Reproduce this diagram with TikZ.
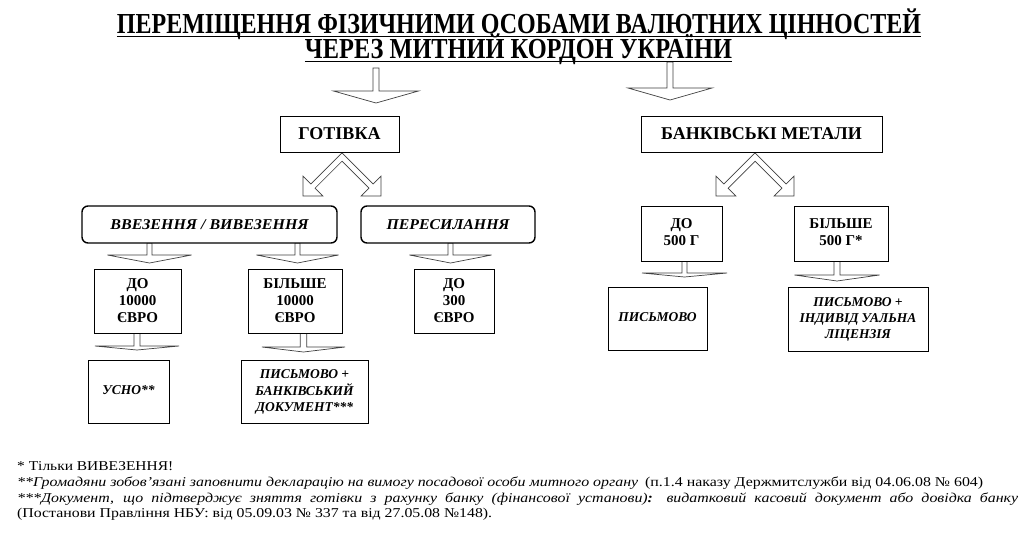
\documentclass[tikz,border=0pt]{standalone}
\usepackage{graphicx}
\usepackage{fontspec}
\setmainfont{Liberation Serif}
\usetikzlibrary{calc}
\pgfdeclarelayer{back}
\pgfdeclarelayer{arr}
\pgfsetlayers{back,arr,main}
\tikzset{
  box/.style={draw=black, line width=1pt, fill=white, inner sep=0pt, outer sep=0pt, align=center},
  rbox/.style={box, rounded corners=6pt, line width=1.4pt},
  blk/.style={draw=black!75, line width=0.7pt, fill=white, line join=miter},
  ul/.style={line width=1.8pt},
  fn/.style={anchor=base west, inner sep=0pt, font=\fontsize{13.5}{16}\selectfont},
  big/.style={font=\fontsize{18}{20}\selectfont\bfseries},
  mid/.style={font=\fontsize{15}{17}\selectfont\bfseries\itshape},
  sm/.style={font=\fontsize{15}{17}\selectfont\bfseries},
  smi/.style={font=\fontsize{13.5}{16}\selectfont\bfseries\itshape},
  ttl/.style={anchor=base, inner sep=0pt, font=\fontsize{29}{29}\selectfont\bfseries},
}
\newcommand\stk[1]{\begin{tabular}{@{}c@{}}#1\end{tabular}}
% block arrow: #1 top centre, #2 depth of head base, #3 depth of tip, #4 half shaft, #5 half head
\newcommand\vblock[5]{\draw[blk] #1 ++(-#4,0) -- ++(0,#2) -- ++(#4-#5,0) -- ++(#5,#3-#2) -- ++(#5,#2-#3) -- ++(#4-#5,0) -- ++(0,-#2) -- cycle;}
% double diagonal arrow around centre #1
\newcommand\chev[1]{\draw[blk] ($#1+(0,-4.24)$) -- ($#1+(-31.22,26.98)$) -- ($#1+(-39,19.2)$) -- ($#1+(-39,39)$) -- ($#1+(-19.2,39)$) -- ($#1+(-26.98,31.22)$) -- ($#1+(0,4.24)$) -- ($#1+(26.98,31.22)$) -- ($#1+(19.2,39)$) -- ($#1+(39,39)$) -- ($#1+(39,19.2)$) -- ($#1+(31.22,26.98)$) -- cycle;}
\begin{document}
\begin{tikzpicture}[x=1pt,y=-1pt]
\begin{pgfonlayer}{back}
\fill[white] (0,0) rectangle (1036,547);
\end{pgfonlayer}
\useasboundingbox (0,0) rectangle (1036,547);

% title
\node[ttl] (t1) at (519,33) {\raisebox{0pt}[\height][0pt]{\resizebox{804pt}{\height}{ПЕРЕМІЩЕННЯ ФІЗИЧНИМИ ОСОБАМИ ВАЛЮТНИХ ЦІННОСТЕЙ}}};
\node[ttl] (t2) at (518.5,58) {\raisebox{0pt}[19pt][\depth]{\resizebox{427pt}{\height}{ЧЕРЕЗ МИТНИЙ КОРДОН УКРАЇНИ}}};
\draw[ul] ($(t1.base west)+(0,3.5)$) -- ($(t1.base east)+(0,3.5)$);
\draw[ul] ($(t2.base west)+(0,3.5)$) -- ($(t2.base east)+(0,3.5)$);

% boxes
\node[box, big, minimum width=119pt, minimum height=36pt] (got) at (339.5,134) {ГОТІВКА};
\node[box, big, minimum width=241pt, minimum height=36pt] (bank) at (761.5,134) {БАНКІВСЬКІ МЕТАЛИ};
\node[rbox, mid, minimum width=255pt, minimum height=37pt] (vv) at (209.5,224.5) {\resizebox{198pt}{\height}{ВВЕЗЕННЯ / ВИВЕЗЕННЯ}};
\node[rbox, mid, minimum width=174pt, minimum height=37pt] (per) at (448,224.5) {\resizebox{123pt}{\height}{ПЕРЕСИЛАННЯ}};
\node[box, sm, minimum width=87pt, minimum height=64pt] (d10) at (137.5,301) {ДО\\10000\\ЄВРО};
\node[box, sm, minimum width=94pt, minimum height=64pt] (b10) at (295,301) {БІЛЬШЕ\\10000\\ЄВРО};
\node[box, sm, minimum width=80pt, minimum height=64pt] (d300) at (454,301) {ДО\\300\\ЄВРО};
\node[box, smi, minimum width=81pt, minimum height=63pt] (usno) at (128.5,391.5) {\raisebox{3pt}{УСНО**}};
\node[box, smi, minimum width=127pt, minimum height=63pt] (pbd) at (304.5,391.5) {\raisebox{2pt}{\stk{ПИСЬМОВО +\\БАНКІВСЬКИЙ\\ДОКУМЕНТ***}}};
\node[box, sm, minimum width=81pt, minimum height=55pt] (d500) at (681.5,233.5) {\raisebox{5.5pt}{\stk{ДО\\500 Г}}};
\node[box, sm, minimum width=94pt, minimum height=55pt] (b500) at (841,233.5) {\raisebox{5.5pt}{\stk{БІЛЬШЕ\\500 Г*}}};
\node[box, smi, minimum width=99pt, minimum height=63pt] (pys) at (657.5,318.5) {\raisebox{2.5pt}{ПИСЬМОВО}};
\node[box, smi, minimum width=140pt, minimum height=64pt] (pil) at (858,319) {\raisebox{3.5pt}{\stk{ПИСЬМОВО +\\ІНДИВІД\kern3pt УАЛЬНА\\ЛІЦЕНЗІЯ}}};

% arrows
\begin{pgfonlayer}{arr}
\vblock{(376,68)}{23}{35}{3}{42.5}
\vblock{(670,62)}{26}{38}{3}{42}
\coordinate (cg) at ($(got.south)+(2.5,5)$);
\coordinate (cb) at ($(bank.south)+(-6.5,5)$);
\chev{(cg)}
\chev{(cb)}
\vblock{(149.5,0 |- vv.south)}{12}{20}{2.5}{42}
\vblock{(297.5,0 |- vv.south)}{12}{20}{2.5}{41}
\vblock{(450.5,0 |- per.south)}{12}{20}{2.5}{41}
\vblock{(137,0 |- d10.south)}{13}{17}{3}{42}
\vblock{(303.5,0 |- b10.south)}{14}{19}{3.3}{41.5}
\vblock{(684.5,0 |- d500.south)}{12}{16}{2.5}{42.5}
\vblock{(837,0 |- b500.south)}{14}{20}{3}{42.5}
\end{pgfonlayer}

% footnotes
\node[fn] (f1) at (17,470) {\resizebox{156pt}{\height}{* Тільки ВИВЕЗЕННЯ!}};
\node[fn] (f2a) at (17,486.5) {\resizebox{621pt}{\height}{\itshape **Громадяни зобов’язані заповнити декларацію на вимогу посадової особи митного органу}};
\node[fn] (f2b) at (645,486.5) {\resizebox{338pt}{\height}{(п.1.4 наказу Держмитслужби від 04.06.08 № 604)}};
\node[fn] (f3) at (17,502.5) {\resizebox{1001pt}{\height}{\makebox[850pt][s]{\itshape ***Документ, що підтверджує зняття готівки з рахунку банку (фінансової установи)\textbf{:} видатковий касовий документ або довідка банку}}};
\node[fn] (f4) at (17,517) {\resizebox{475pt}{\height}{(Постанови Правління НБУ: від 05.09.03 № 337 та від 27.05.08 №148).}};
\end{tikzpicture}
\end{document}
